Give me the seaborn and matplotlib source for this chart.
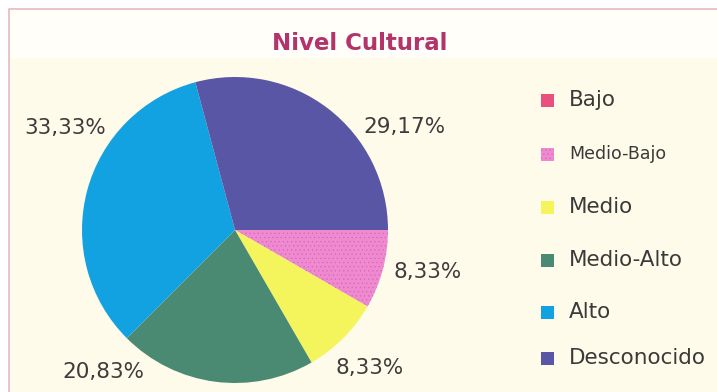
import matplotlib
matplotlib.use("Agg")
import matplotlib.pyplot as plt
import seaborn as sns
import numpy as np
from matplotlib.patches import Rectangle

sns.set_theme(style="white")
plt.rcParams['font.family'] = ['DejaVu Sans']
plt.rcParams['hatch.linewidth'] = 0.4

categories = ["Bajo", "Medio-Bajo", "Medio", "Medio-Alto", "Alto", "Desconocido"]
values = [0.0, 8.33, 8.33, 20.83, 33.33, 29.17]
labels = ["", "8,33%", "8,33%", "20,83%", "33,33%", "29,17%"]
colors = ["#E8507E", "#EE8AD0", "#F4F45C", "#4A8A72", "#12A2E2", "#5A56A6"]
title = "Nivel Cultural"

W, H = 717, 392
fig = plt.figure(figsize=(W / 100, H / 100), dpi=100)
fig.patch.set_facecolor("white")

# background panels
bg = fig.add_axes([0, 0, 1, 1])
bg.set_xlim(0, W)
bg.set_ylim(H, 0)
bg.axis("off")
bg.add_patch(Rectangle((9, 9), W - 9, H - 9, facecolor="#FEFBEA", edgecolor="none"))
bg.add_patch(Rectangle((9, 9), W - 9, 49, facecolor="#FFFEF9", edgecolor="none"))
bg.plot([9, 9, W], [H, 9, 9], color="#E8B8C4", lw=1.2)
bg.text(360, 43, title, ha="center", va="center", fontsize=16.5, color="#B3346A",
        fontweight="bold")

# pie
cx, cy, r = 235, 230, 153
ax = fig.add_axes([(cx - r) / W, (H - cy - r) / H, 2 * r / W, 2 * r / H])
ax.set_facecolor("none")
nz = [i for i, v in enumerate(values) if v > 0]
wedges, _ = ax.pie([values[i] for i in nz], colors=[colors[i] for i in nz],
                   startangle=0, counterclock=False, radius=1,
                   wedgeprops=dict(linewidth=0))
for i, w in zip(nz, wedges):
    if categories[i] == "Medio-Bajo":
        w.set_hatch("....")
        w.set_edgecolor("#E060B8")
        w.set_linewidth(0)
ax.set_xlim(-1, 1)
ax.set_ylim(-1, 1)
ax.set_aspect("equal")

# label positions (data coords relative to pie)
label_pos = {
    "Medio-Bajo": (1.26, -0.275),
    "Medio": (0.88, -0.90),
    "Medio-Alto": (-0.86, -0.93),
    "Alto": (-1.11, 0.667),
    "Desconocido": (1.11, 0.673),
}
for cat, lab in zip(categories, labels):
    if lab:
        x, y = label_pos[cat]
        ax.text(x, y, lab, ha="center", va="center", fontsize=15.5, color="#3C3C3C",
                clip_on=False)

# legend
ys = [100, 154, 207, 260, 312, 358]
for cat, col, y in zip(categories, colors, ys):
    hatch = "...." if cat == "Medio-Bajo" else None
    bg.add_patch(Rectangle((541, y - 6.5), 13, 13, facecolor=col,
                           edgecolor="#E060B8" if hatch else "none", hatch=hatch, lw=0))
    bg.text(569, y, cat, ha="left", va="center",
            fontsize=12.5 if cat == "Medio-Bajo" else 15.5, color="#3A3A3A")

fig.savefig("out.png", dpi=100, facecolor="white")
